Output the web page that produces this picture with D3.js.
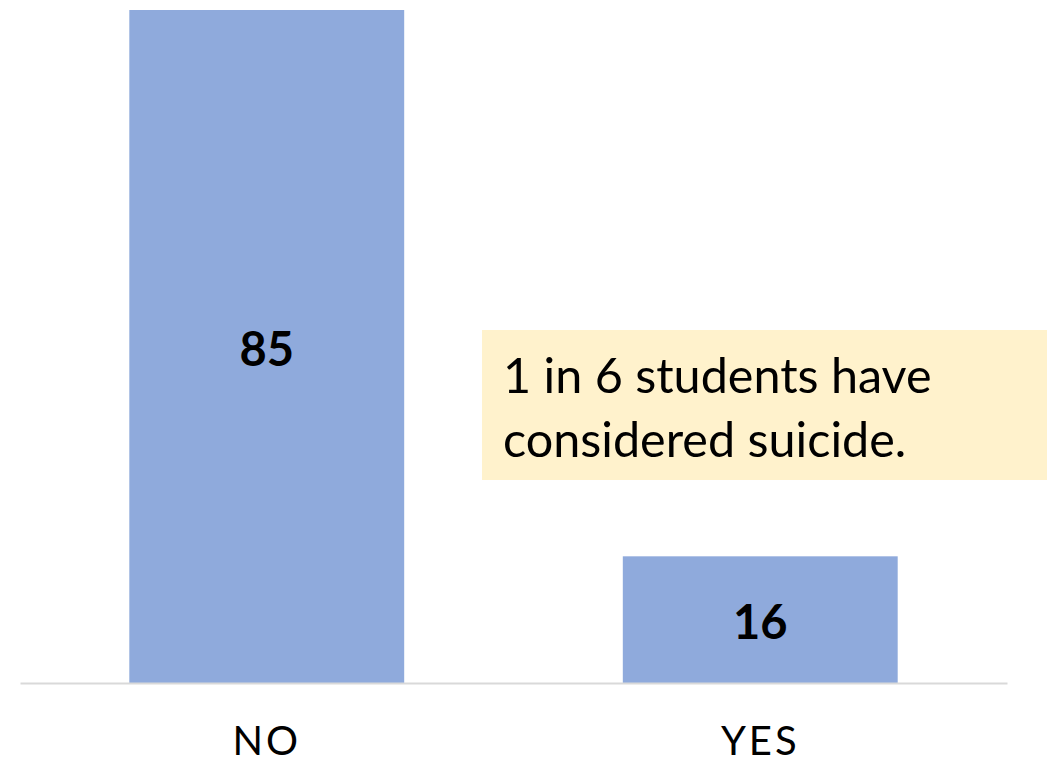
<!DOCTYPE html>
<html>
<head>
<meta charset="utf-8">
<script src="https://cdn.jsdelivr.net/npm/d3@7"></script>
<style>
  body { margin: 0; background: #fff; }
  svg { display: block; font-family: Lato, "Open Sans", sans-serif; }
</style>
</head>
<body>
<div id="chart"></div>
<script>
// Considered suicide - column chart

const categories = ["NO", "YES"];
const values = [85, 16];
const noteLines = ["1 in 6 students have", "considered suicide."];

const width = 1055;
const height = 764;
const plot = { left: 20, right: 1007, top: 10, bottom: 683 };

const svg = d3.select("#chart")
  .append("svg")
  .attr("width", width)
  .attr("height", height);

// --- Scales ---
const x = d3.scaleBand()
  .domain(categories)
  .range([plot.left, plot.right])
  .paddingInner(0.443)
  .paddingOuter(0.2215);

const y = d3.scaleLinear()
  .domain([0, d3.max(values)])
  .range([plot.bottom, plot.top]);

const data = categories.map((c, i) => ({ cat: c, val: values[i] }));

// --- Bars ---
svg.selectAll("rect.bar")
  .data(data)
  .enter()
  .append("rect")
  .attr("class", "bar")
  .attr("x", d => x(d.cat))
  .attr("y", d => y(d.val))
  .attr("width", x.bandwidth())
  .attr("height", d => y(0) - y(d.val))
  .attr("fill", "#8FAADC");

// --- Value labels (middle of bar) ---
svg.selectAll("text.val")
  .data(data)
  .enter()
  .append("text")
  .attr("class", "val")
  .attr("x", d => x(d.cat) + x.bandwidth() / 2)
  .attr("y", d => (y(d.val) + y(0)) / 2)
  .attr("dy", "0.42em")
  .attr("text-anchor", "middle")
  .style("font-size", "47px")
  .style("font-weight", "bold")
  .attr("fill", "#000")
  .text(d => d.val);

// --- X axis ---
const xAxis = svg.append("g")
  .attr("transform", `translate(0,${plot.bottom})`)
  .call(d3.axisBottom(x).tickSize(0).tickPadding(0));

xAxis.select(".domain")
  .attr("stroke", "#D9D9D9")
  .attr("stroke-width", 2);

xAxis.selectAll(".tick text")
  .attr("y", 72)
  .attr("dy", 0)
  .style("font-size", "40px")
  .style("letter-spacing", "3px")
  .style("font-family", "Lato, sans-serif")
  .attr("fill", "#000");

// --- Annotation box ---
const note = svg.append("g");

note.append("rect")
  .attr("x", 482)
  .attr("y", 330)
  .attr("width", 565)
  .attr("height", 150)
  .attr("fill", "#FFF2CC");

note.selectAll("text")
  .data(noteLines)
  .enter()
  .append("text")
  .attr("x", 503)
  .attr("y", (d, i) => 393 + i * 64)
  .style("font-size", "48.5px")
  .attr("fill", "#000")
  .text(d => d);
</script>
</body>
</html>
